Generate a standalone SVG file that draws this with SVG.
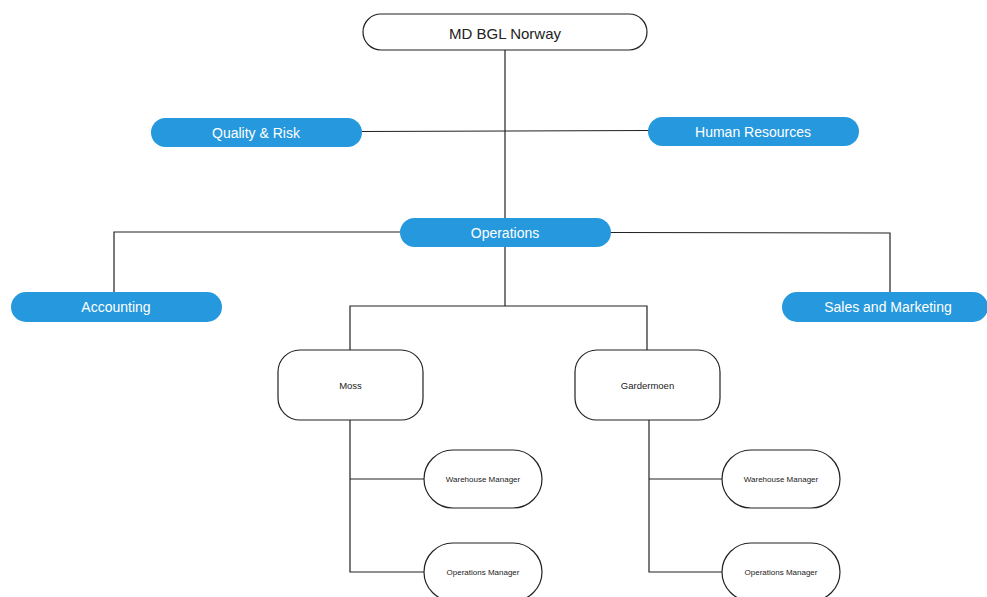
<svg xmlns="http://www.w3.org/2000/svg" width="987" height="597" viewBox="0 0 987 597">
<style>
.blue{fill:#2698dd;}
.wbox{fill:#fff;stroke:#222;stroke-width:1.2;}
.lt{fill:#fff;font-family:"Liberation Sans",Arial,sans-serif;font-size:14px;text-anchor:middle;dominant-baseline:central;}
.dk{fill:#222;font-family:"Liberation Sans",Arial,sans-serif;text-anchor:middle;dominant-baseline:central;}
.c{fill:none;stroke:#222;stroke-width:1.2;}
</style>
<rect width="987" height="597" fill="#fff"/>
<g id="connectors">
<path class="c" d="M505 50V218"/>
<path class="c" d="M362 131.5L648 130.5"/>
<path class="c" d="M400 232H114V292"/>
<path class="c" d="M611 232.5L890 233V292"/>
<path class="c" d="M505 246V306"/>
<path class="c" d="M350 350V306H647V350"/>
<path class="c" d="M350 420V572H424M350 479H424"/>
<path class="c" d="M649 420V572H722M649 479H722"/>
</g>
<g id="md">
<rect class="wbox" x="363" y="14" width="284" height="36" rx="18"/>
<text class="dk" x="505" y="33" font-size="15">MD BGL Norway</text>
</g>
<g id="quality">
<rect class="blue" x="151" y="118" width="211" height="29" rx="14.5"/>
<text class="lt" x="256" y="132.5">Quality &amp; Risk</text>
</g>
<g id="hr">
<rect class="blue" x="648" y="117" width="211" height="29" rx="14.5"/>
<text class="lt" x="753" y="131.5">Human Resources</text>
</g>
<g id="operations">
<rect class="blue" x="400" y="218" width="211" height="29" rx="14.5"/>
<text class="lt" x="505" y="232.5">Operations</text>
</g>
<g id="accounting">
<rect class="blue" x="11" y="292" width="211" height="30" rx="15"/>
<text class="lt" x="116" y="307">Accounting</text>
</g>
<g id="sales">
<rect class="blue" x="782" y="292" width="206" height="30" rx="15"/>
<text class="lt" x="888" y="307">Sales and Marketing</text>
</g>
<g id="moss">
<rect class="wbox" x="278" y="350" width="145" height="70" rx="22"/>
<text class="dk" x="350.5" y="385" font-size="9.5">Moss</text>
</g>
<g id="gardermoen">
<rect class="wbox" x="575" y="350" width="145" height="70" rx="22"/>
<text class="dk" x="647.5" y="385" font-size="9.5">Gardermoen</text>
</g>
<g id="moss-wm">
<rect class="wbox" x="424" y="450" width="118" height="58" rx="29"/>
<text class="dk" x="483" y="479" font-size="8">Warehouse Manager</text>
</g>
<g id="moss-om">
<rect class="wbox" x="424" y="543" width="118" height="58" rx="29"/>
<text class="dk" x="483" y="572" font-size="8">Operations Manager</text>
</g>
<g id="gard-wm">
<rect class="wbox" x="722" y="450" width="118" height="58" rx="29"/>
<text class="dk" x="781" y="479" font-size="8">Warehouse Manager</text>
</g>
<g id="gard-om">
<rect class="wbox" x="722" y="543" width="118" height="58" rx="29"/>
<text class="dk" x="781" y="572" font-size="8">Operations Manager</text>
</g>
</svg>
